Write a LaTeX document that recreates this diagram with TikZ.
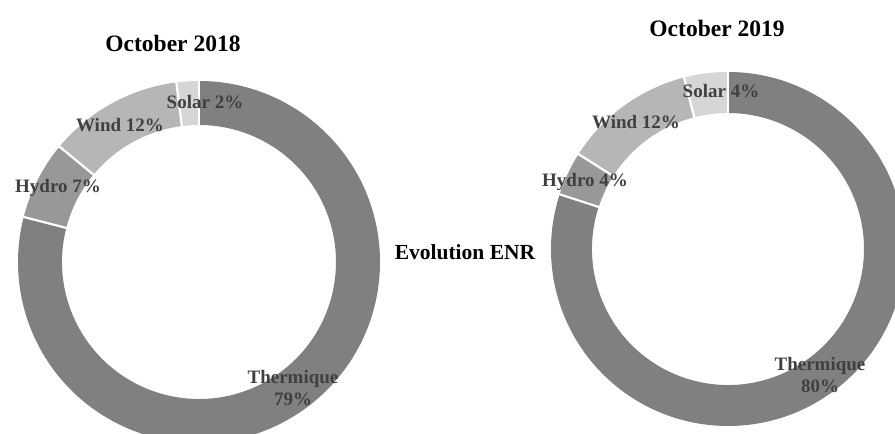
\documentclass[tikz,border=0pt]{standalone}
\usepackage{fontspec}
\setmainfont{Liberation Serif}
\definecolor{thermc}{RGB}{128,128,128}
\definecolor{hydroc}{RGB}{152,152,152}
\definecolor{windc}{RGB}{182,182,182}
\definecolor{solarc}{RGB}{214,214,214}
\definecolor{labc}{RGB}{64,64,64}
\tikzset{
  titlelab/.style={font=\fontsize{23.5}{27}\selectfont\bfseries, text=black, inner sep=0pt},
  seglab/.style={font=\fontsize{19}{22}\selectfont\bfseries, text=labc, inner sep=0pt, align=center},
  sepline/.style={draw=white, line width=2.2pt}
}
\newcommand\ringpart[6]{% center, start, end, color, Rout, Rin
  \fill[#4] ([shift={(#2:#5)}]#1) arc[start angle=#2, end angle=#3, radius=#5]
     -- ([shift={(#3:#6)}]#1) arc[start angle=#3, end angle=#2, radius=#6] -- cycle;}
\begin{document}
\begin{tikzpicture}[x=1pt,y=1pt]
\useasboundingbox (0,0) rectangle (895,434);
\clip (0,0) rectangle (895,434);
\fill[white] (0,0) rectangle (895,434);
% left donut
\coordinate (L) at (199,172);
\ringpart{L}{90}{-194.4}{thermc}{181pt}{137pt}
\ringpart{L}{165.6}{140.4}{hydroc}{181pt}{137pt}
\ringpart{L}{140.4}{97.2}{windc}{181pt}{137pt}
\ringpart{L}{97.2}{90}{solarc}{181pt}{137pt}
\foreach \a in {90,165.6,140.4,97.2}
  \draw[sepline] ([shift={(\a:134pt)}]L) -- ([shift={(\a:184pt)}]L);
% right donut
\coordinate (R) at (728,185);
\ringpart{R}{90}{-198}{thermc}{177pt}{136pt}
\ringpart{R}{162}{147.6}{hydroc}{177pt}{136pt}
\ringpart{R}{147.6}{104.4}{windc}{177pt}{136pt}
\ringpart{R}{104.4}{90}{solarc}{177pt}{136pt}
\foreach \a in {90,162,147.6,104.4}
  \draw[sepline] ([shift={(\a:133pt)}]R) -- ([shift={(\a:180pt)}]R);
% titles
\node[titlelab] (t18) at (173,391) {October 2018};
\node[titlelab] (t19) at (717,406) {October 2019};
\node[titlelab, font=\fontsize{21.5}{25}\selectfont\bfseries] (evo) at (465,182) {Evolution ENR};
% left labels
\node[seglab] (ls) at (205,332) {Solar 2\%};
\node[seglab] (lw) at (120,309) {Wind 12\%};
\node[seglab] (lh) at (58,246) {Hydro 7\%};
\node[seglab] (lt) at (293,46) {Thermique\\79\%};
% right labels
\node[seglab] (rs) at (721,343) {Solar 4\%};
\node[seglab] (rw) at (636,312) {Wind 12\%};
\node[seglab] (rh) at (585,252) {Hydro 4\%};
\node[seglab] (rt) at (820,59) {Thermique\\80\%};
\end{tikzpicture}
\end{document}
